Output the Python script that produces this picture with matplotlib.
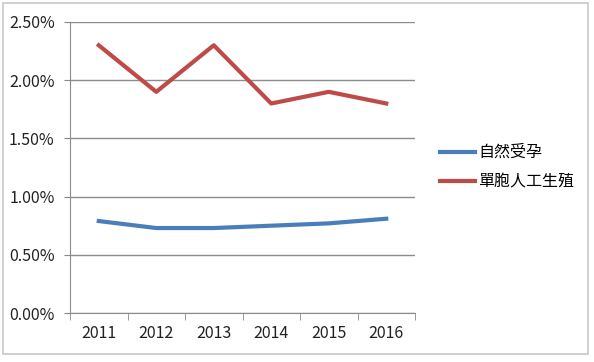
import matplotlib.pyplot as plt
from matplotlib.patches import Rectangle
from matplotlib.ticker import FuncFormatter, FixedLocator

plt.rcParams['font.family'] = ['Noto Sans CJK TC', 'DejaVu Sans']

years = ['2011', '2012', '2013', '2014', '2015', '2016']
natural = [0.0079, 0.0073, 0.0073, 0.0075, 0.0077, 0.0081]
icsi = [0.023, 0.019, 0.023, 0.018, 0.019, 0.018]

fig = plt.figure(figsize=(5.94, 3.62), dpi=100)
fig.patches.append(Rectangle((3 / 594, 1 - 354 / 362), 585 / 594, 351 / 362,
                             transform=fig.transFigure, fill=False,
                             edgecolor='#c8c8c8', linewidth=1.2))

ax = fig.add_axes([70 / 594, 1 - 313 / 362, 345 / 594, 291 / 362])
x = range(len(years))
ax.plot(x, natural, color='#4a7ebb', linewidth=3, label='自然受孕')
ax.plot(x, icsi, color='#be4b48', linewidth=3, label='單胞人工生殖')

ax.set_xlim(-0.5, len(years) - 0.5)
ax.set_ylim(0, 0.025)
ax.set_yticks([0, 0.005, 0.01, 0.015, 0.02, 0.025])
ax.yaxis.set_major_formatter(FuncFormatter(lambda v, p: f'{v * 100:.2f}%'))
ax.set_xticks(list(x))
ax.set_xticklabels(years)
ax.xaxis.set_minor_locator(FixedLocator([i - 0.5 for i in range(len(years) + 1)]))
ax.tick_params(axis='x', which='major', length=0, pad=9, labelsize=11.5, colors='#222222')
ax.tick_params(axis='x', which='minor', length=5, color='#888888', direction='out')
ax.tick_params(axis='y', length=4, color='#888888', labelsize=11.5, labelcolor='#222222', pad=7)
ax.grid(axis='y', color='#8c8c8c', linewidth=1)
for s in ['top', 'right']:
    ax.spines[s].set_visible(False)
for s in ['left', 'bottom']:
    ax.spines[s].set_color('#8c8c8c')

ax.legend(loc='center left', bbox_to_anchor=(1.03, 0.5), frameon=False,
          fontsize=11.5, handlelength=2.2, handletextpad=0.2, labelspacing=0.8)

fig.savefig('out.png', dpi=100)
